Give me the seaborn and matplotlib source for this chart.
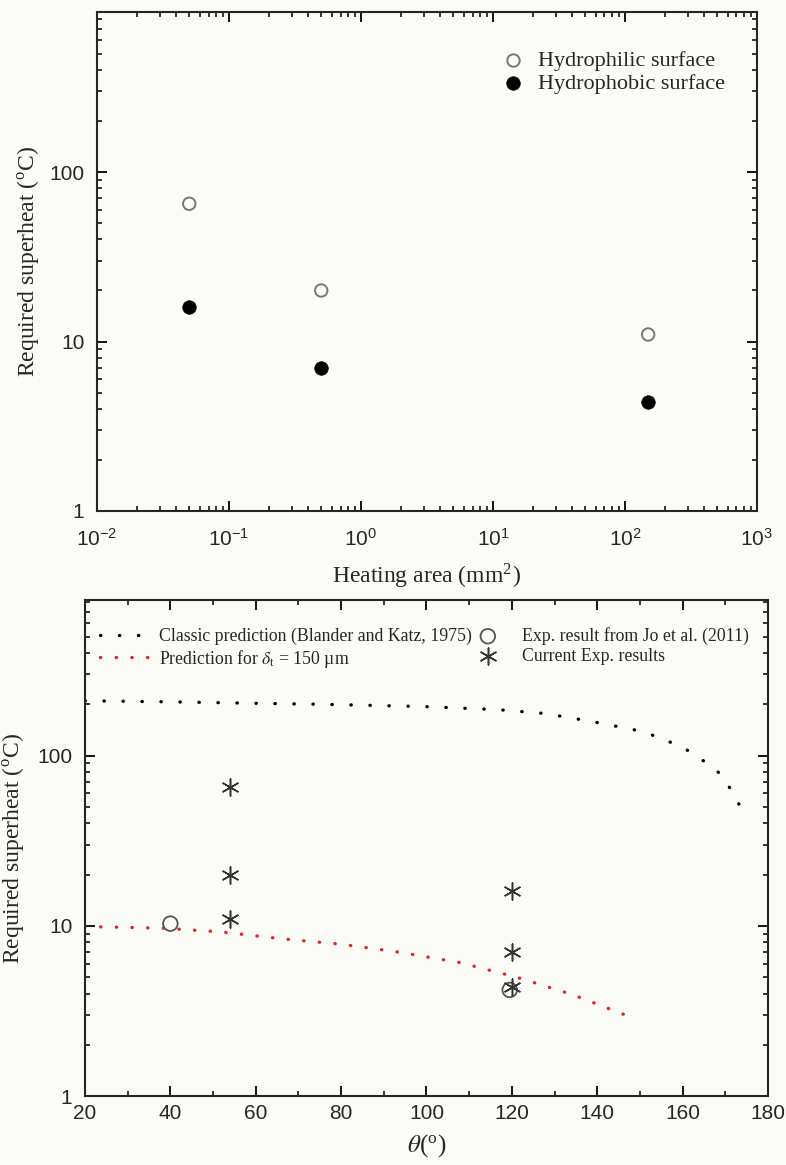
import numpy as np
import pandas as pd
import matplotlib
matplotlib.use("Agg")
import matplotlib.pyplot as plt
import matplotlib.ticker as mticker
import seaborn as sns

# ---- data ----
area_mm2 = [0.05, 0.5, 150]
hydrophilic_dT = [65, 20, 11]
hydrophobic_dT = [16, 7, 4.4]

classic_theta = [20, 40, 60, 77, 100, 117, 127.5, 138, 148.6, 154.7, 161, 167, 169.5, 171.3, 173, 175]
classic_dT = [210, 207, 203, 200, 194, 186, 177, 160, 142, 128, 108, 86, 75, 63, 53, 42]

pred_theta = [20, 38, 52, 66, 80, 93.6, 107.6, 121, 134, 148]
pred_dT = [9.9, 9.7, 9.2, 8.4, 7.8, 7.0, 6.1, 5.0, 3.96, 2.9]

jo_theta = [40, 119.5]
jo_dT = [10.3, 4.2]

cur_theta = [54, 54, 54, 120, 120, 120]
cur_dT = [65, 20, 11, 16, 7, 4.4]

bg = "#fbfbf7"
sns.set_style("ticks")
plt.rcParams["font.family"] = ["Liberation Serif", "DejaVu Serif"]
plt.rcParams["mathtext.fontset"] = "stix"
plt.rcParams["axes.linewidth"] = 1.5

fig = plt.figure(figsize=(7.86, 11.65), dpi=100, facecolor=bg)
ax1 = fig.add_axes([0.1234, 0.5614, 0.8396, 0.4283], facecolor=bg)
ax2 = fig.add_axes([0.1081, 0.0592, 0.8690, 0.4257], facecolor=bg)

# ---- top panel ----
sns.scatterplot(x=area_mm2, y=hydrophilic_dT, ax=ax1, marker="o", s=80,
                facecolor="none", edgecolor="#777777", linewidth=1.4,
                label="Hydrophilic surface", zorder=3)
sns.scatterplot(x=area_mm2, y=hydrophobic_dT, ax=ax1, marker="o", s=95,
                color="black", edgecolor="black", linewidth=0.5,
                label="Hydrophobic surface", zorder=3)
ax1.set_xscale("log")
ax1.set_yscale("log")
ax1.set_xlim(1e-2, 1e3)
ax1.set_ylim(1, 880)
ax1.set_xlabel(r"Heating area (mm$^{\mathdefault{2}}$)", fontsize=17, labelpad=9)
ax1.set_ylabel(r"Required superheat ($^{\mathdefault{o}}$C)", fontsize=17, labelpad=6)
ax1.xaxis.set_major_locator(mticker.LogLocator(base=10, numticks=10))
ax1.xaxis.set_minor_locator(mticker.LogLocator(base=10, subs=np.arange(2, 10), numticks=20))
ax1.xaxis.set_minor_formatter(mticker.NullFormatter())
leg1 = ax1.legend(loc="upper right", bbox_to_anchor=(0.965, 0.94), frameon=False,
                  fontsize=16, handlelength=1.2, handletextpad=0.5,
                  labelspacing=0.1, borderaxespad=0)

# ---- bottom panel ----
sns.lineplot(x=classic_theta, y=classic_dT, ax=ax2, color="black", lw=2.4,
             linestyle=(0, (0.1, 5.6)), dash_capstyle="round", sort=False,
             estimator=None, label="Classic prediction (Blander and Katz, 1975)")
sns.lineplot(x=pred_theta, y=pred_dT, ax=ax2, color="#e3222c", lw=2.4,
             linestyle=(0, (0.1, 4.6)), dash_capstyle="round", sort=False,
             estimator=None, label=r"Prediction for $\delta_{\mathdefault{t}}$ = 150 µm")
sns.scatterplot(x=jo_theta, y=jo_dT, ax=ax2, marker="o", s=110,
                facecolor="none", edgecolor="#555555", linewidth=1.3,
                label="Exp. result from Jo et al. (2011)", zorder=3)
sns.scatterplot(x=cur_theta, y=cur_dT, ax=ax2, marker=(6, 2, 0), s=150,
                color="#333333", linewidth=1.1,
                label="Current Exp. results", zorder=4)
ax2.set_yscale("log")
ax2.set_xlim(20, 180)
ax2.set_ylim(1, 820)
ax2.xaxis.set_major_locator(mticker.MultipleLocator(20))
ax2.xaxis.set_minor_locator(mticker.MultipleLocator(10))
ax2.set_xlabel(r"$\theta$($^{\mathdefault{o}}$)", fontsize=18, labelpad=6)
ax2.set_ylabel(r"Required superheat ($^{\mathdefault{o}}$C)", fontsize=17, labelpad=8)
h, lab = ax2.get_legend_handles_labels()
leg2 = ax2.legend(h, lab, loc="upper left", bbox_to_anchor=(0.012, 0.96), ncol=2,
                  frameon=False, fontsize=12.8, handlelength=2.8, handletextpad=0.5,
                  columnspacing=-0.5, labelspacing=0.15, borderaxespad=0)

for ax in (ax1, ax2):
    ax.yaxis.set_major_locator(mticker.FixedLocator([1, 10, 100, 1000]))
    ax.yaxis.set_major_formatter(mticker.FixedFormatter(["1", "10", "100", ""]))
    ax.yaxis.set_minor_locator(mticker.LogLocator(base=10, subs=np.arange(2, 10), numticks=20))
    ax.yaxis.set_minor_formatter(mticker.NullFormatter())
    ax.tick_params(which="both", direction="in", top=True, right=True, color="black")
    ax.tick_params(which="major", length=7, width=1.3)
    ax.tick_params(which="minor", length=3.5, width=1.1)
    ax.tick_params(axis="y", which="major", pad=9)
    for t in ax.get_xticklabels() + ax.get_yticklabels():
        t.set_fontfamily(["Liberation Sans", "DejaVu Sans"])
        t.set_fontsize(15)
    for s in ax.spines.values():
        s.set_visible(True)
        s.set_linewidth(1.5)

ax1.tick_params(axis="x", which="major", pad=12)
ax2.tick_params(axis="x", which="major", pad=6)

fig.savefig("out.png", dpi=100, facecolor=bg)
